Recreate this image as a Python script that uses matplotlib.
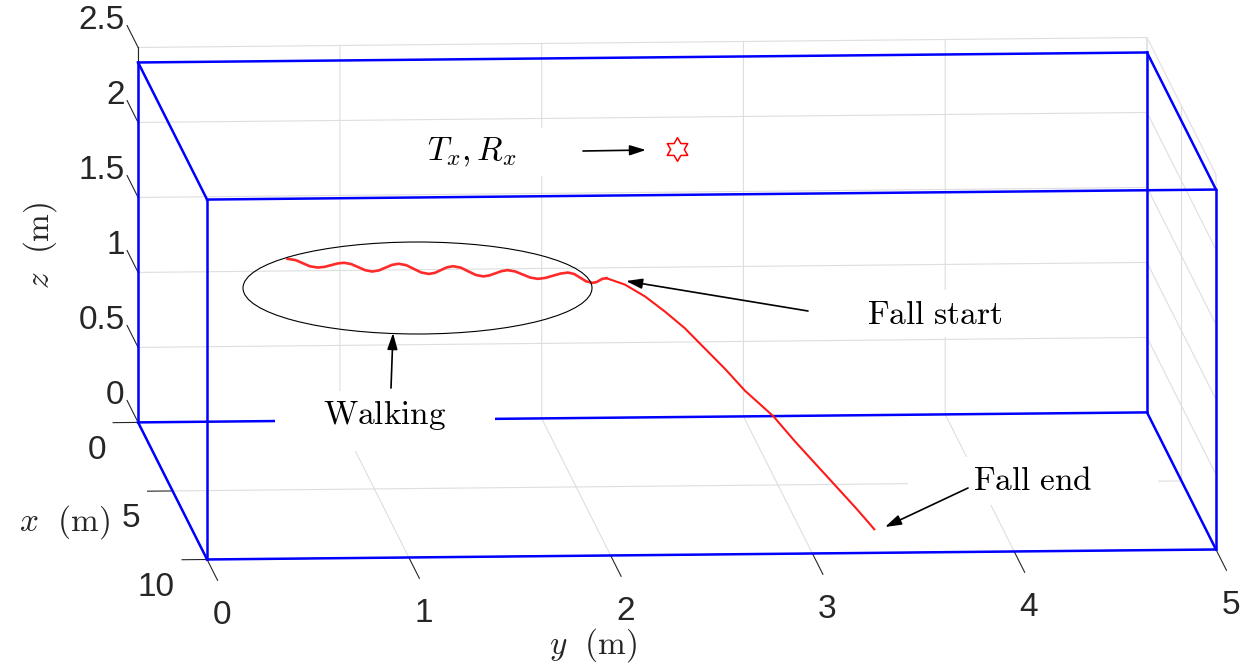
import matplotlib.pyplot as plt
import numpy as np
from matplotlib.patches import Ellipse, Rectangle, FancyArrowPatch
from matplotlib.path import Path
from mpl_toolkits.mplot3d import proj3d

plt.rcParams['mathtext.fontset'] = 'cm'
plt.rcParams['font.family'] = ['Liberation Sans', 'DejaVu Sans']
plt.rcParams['grid.color'] = '#dedede'
plt.rcParams['grid.linewidth'] = 0.8

# sala (m)
room_x = [0, 10]
room_y = [0, 5]
room_z = [0, 2.4]

# antena Tx/Rx
txrx_x, txrx_y, txrx_z = 5.0, 2.5, 2.25

# trajetoria da cabeca caminhando (x fixo)
walk_x = 5.0
walk_y = [0.57, 0.61, 0.645, 0.68, 0.72, 0.753, 0.785, 0.818, 0.85, 0.885, 0.92, 0.955,
          0.99, 1.023, 1.055, 1.088, 1.12, 1.158, 1.195, 1.233, 1.27, 1.30, 1.33, 1.36,
          1.39, 1.428, 1.465, 1.503, 1.54, 1.57, 1.60, 1.63, 1.66, 1.698, 1.735, 1.773,
          1.81, 1.848, 1.885, 1.923, 1.96, 1.99, 2.02, 2.05, 2.08, 2.10, 2.115, 2.13, 2.15]
walk_z = [1.54, 1.531, 1.51, 1.489, 1.48, 1.484, 1.495, 1.506, 1.51, 1.501, 1.48, 1.459,
          1.45, 1.457, 1.475, 1.493, 1.50, 1.49, 1.465, 1.44, 1.43, 1.437, 1.455, 1.473,
          1.48, 1.47, 1.445, 1.42, 1.41, 1.416, 1.43, 1.444, 1.45, 1.441, 1.42, 1.399,
          1.39, 1.396, 1.41, 1.424, 1.43, 1.42, 1.395, 1.37, 1.36, 1.364, 1.375, 1.386, 1.39]

# queda
fall_x = [5.00, 5.23, 5.47, 5.72, 5.96, 6.21, 6.45, 6.70, 7.05, 7.31, 7.56, 7.80, 8.05, 8.23, 8.29]
fall_y = [2.15, 2.234, 2.325, 2.416, 2.506, 2.597, 2.688, 2.779, 2.907, 3.005, 3.096, 3.187,
          3.278, 3.345, 3.365]
fall_z = [1.39, 1.367, 1.309, 1.229, 1.139, 1.025, 0.911, 0.786, 0.647, 0.502, 0.377, 0.252,
          0.127, 0.030, 0.0]

x_ticks = [0, 5, 10]
y_ticks = [0, 1, 2, 3, 4, 5]
z_ticks = [0, 0.5, 1, 1.5, 2, 2.5]
z_ticklabels = ['0', '0.5', '1', '1.5', '2', '2.5']

W, H = 1252, 668
TICK_COLOR = '#262626'


def fig_xy(px, py):
    # pixel (a partir do topo) -> fracao da figura
    return px / W, 1 - py / H


fig = plt.figure(figsize=(W / 100, H / 100), dpi=100)
ax = fig.add_axes([-0.0396, -0.5346, 1.1302, 2.1183], projection='3d', proj_type='ortho')
ax.view_init(elev=8.07, azim=-4.04)
ax.set_box_aspect((979, 1011.5, 378.7))
ax.set_xlim(0, 10)
ax.set_ylim(0, 5)
ax.set_zlim(0, 2.5)
ax.set_xticks(x_ticks)
ax.set_yticks(y_ticks)
ax.set_zticks(z_ticks)
ax.set_zticklabels([])
ax.zaxis.set_tick_params(labelbottom=False)
ax.tick_params(colors=TICK_COLOR, labelsize=24)
ax.tick_params(axis='x', pad=9)
ax.tick_params(axis='y', pad=34)
plt.setp(ax.get_xticklabels(), ha='right', va='top')
plt.setp(ax.get_yticklabels(), ha='left', va='top')

for axis in (ax.xaxis, ax.yaxis, ax.zaxis):
    axis.set_pane_color((1, 1, 1, 1))
    axis.line.set_color(TICK_COLOR)
    axis.line.set_linewidth(0.8)

ax.xaxis._axinfo['tick']['inward_factor'] = 0.31
ax.xaxis._axinfo['tick']['outward_factor'] = 0.0
ax.yaxis._axinfo['tick']['inward_factor'] = 1.9
ax.yaxis._axinfo['tick']['outward_factor'] = 0.0
# eixo z na aresta de tras (x=0, y=0), tracos apontando para -x como no MATLAB
ax.zaxis.set_ticks_position('lower')
ax.zaxis._get_tickdir = lambda position: 0
ax.zaxis._axinfo['tick']['inward_factor'] = 0.0
ax.zaxis._axinfo['tick']['outward_factor'] = 2.0

# rotulos do eixo z ao longo da direcao dos tracos (-x)
M = ax.get_proj()
for zt, lab in zip(z_ticks, z_ticklabels):
    px, py, _ = proj3d.proj_transform(-1.95, 0, zt, M)
    ax.text2D(px, py, lab, transform=ax.transData, ha='right', va='center',
              fontsize=24, color=TICK_COLOR)

# caixa azul da sala
x0, x1 = room_x
y0, y1 = room_y
z0, z1 = room_z
edges = [
    ([x0, x0], [y0, y1], [z0, z0]), ([x1, x1], [y0, y1], [z0, z0]),
    ([x0, x0], [y0, y1], [z1, z1]), ([x1, x1], [y0, y1], [z1, z1]),
    ([x0, x1], [y0, y0], [z0, z0]), ([x0, x1], [y1, y1], [z0, z0]),
    ([x0, x1], [y0, y0], [z1, z1]), ([x0, x1], [y1, y1], [z1, z1]),
    ([x0, x0], [y0, y0], [z0, z1]), ([x1, x1], [y0, y0], [z0, z1]),
    ([x0, x0], [y1, y1], [z0, z1]), ([x1, x1], [y1, y1], [z0, z1]),
]
for ex, ey, ez in edges:
    ax.plot(ex, ey, ez, color='blue', lw=1.8)

ax.plot(np.full(len(walk_y), walk_x), walk_y, walk_z, color='#ff2a2a', lw=1.9)
ax.plot(fall_x, fall_y, fall_z, color='#ff1a1a', lw=1.5)

star = Path.unit_regular_star(6, 0.577)
ax.plot([txrx_x], [txrx_y], [txrx_z], marker=star, ls='none', ms=17,
        mfc='none', mec='red', mew=1.1)

# anotacoes (caixas brancas, textos e setas)
boxes = [(361, 128, 583, 176), (275, 391, 495, 451), (808, 290, 1085, 337), (908, 457, 1158, 505)]
for bx0, by0, bx1, by1 in boxes:
    fx, fy = fig_xy(bx0, by1)
    fig.add_artist(Rectangle((fx, fy), (bx1 - bx0) / W, (by1 - by0) / H,
                             transform=fig.transFigure, fc='white', ec='none', zorder=2))

fig.add_artist(Ellipse(fig_xy(417.5, 288), 349 / W, 92 / H, transform=fig.transFigure,
                       fill=False, ec='black', lw=0.8, zorder=3))

arrows = [((583, 151), (646, 150)), ((391, 388), (393, 333)),
          ((808, 311), (626, 281)), ((968, 488), (885, 527))]
for tail, head in arrows:
    fig.add_artist(FancyArrowPatch(fig_xy(*tail), fig_xy(*head), transform=fig.transFigure,
                                   arrowstyle='-|>,head_length=0.7,head_width=0.22',
                                   mutation_scale=14, lw=1.2, color='black',
                                   shrinkA=0, shrinkB=0, zorder=5))

texts = [(472, 160, r'$T_x, R_x$'), (385, 424, r'$\mathrm{Walking}$'),
         (934.5, 324, r'$\mathrm{Fall\ start}$'), (1033, 490, r'$\mathrm{Fall\ end}$')]
for tx, ty, s in texts:
    fig.text(*fig_xy(tx, ty), s, fontsize=24, ha='center', va='baseline', zorder=4)

fig.text(*fig_xy(40, 245), r'$z\ \ (\mathrm{m})$', fontsize=24, rotation=90,
         ha='center', va='center', color=TICK_COLOR)
fig.text(*fig_xy(64, 522), r'$x\ \ (\mathrm{m})$', fontsize=24,
         ha='center', va='center', color=TICK_COLOR)
fig.text(*fig_xy(593, 645), r'$y\ \ (\mathrm{m})$', fontsize=24,
         ha='center', va='center', color=TICK_COLOR)

fig.savefig('out.png', dpi=100)
